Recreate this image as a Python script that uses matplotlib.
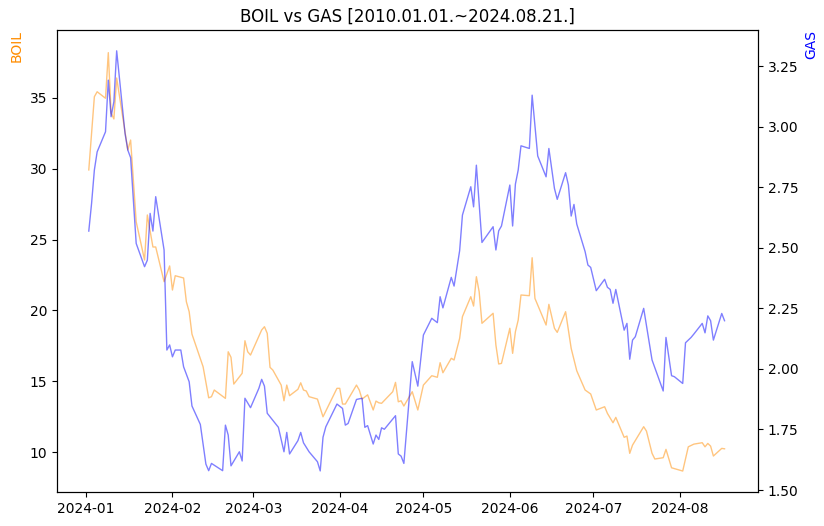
import matplotlib
matplotlib.use("Agg")
import matplotlib.pyplot as plt
import matplotlib.dates as mdates
import pandas as pd

boil_day = [1,3,4,7,8,9,10,11,15,16,18,21,22,24,25,28,30,31,32,35,36,37,38,42,44,45,46,50,51,52,53,56,57,58,59,63,64,65,66,67,70,71,72,73,
            76,77,78,79,80,83,85,90,91,92,93,97,98,99,101,103,104,105,106,110,111,112,113,114,117,119,121,124,126,127,128,131,132,134,135,
            138,139,140,141,142,146,147,148,149,152,153,154,155,156,159,160,161,165,166,168,169,172,173,174,176,179,181,183,186,187,189,190,
            193,194,195,196,200,201,203,204,207,208,210,214,216,218,221,222,223,224,225,228,229]
boil_val = [29.92,35.09,35.44,34.98,38.2,33.94,33.52,36.41,31.33,32.03,26.26,23.56,26.74,24.48,24.48,22.03,23.14,21.44,22.45,22.29,20.61,19.91,18.33,
            16.02,13.83,13.91,14.38,13.79,17.08,16.69,14.80,15.56,17.86,17.08,16.85,18.62,18.85,18.38,15.98,15.79,14.73,13.62,14.73,13.98,
            14.43,14.89,14.38,14.31,13.91,13.74,12.49,14.50,14.50,13.39,13.39,14.73,14.38,13.74,14.04,12.97,13.60,13.48,13.44,14.26,14.92,13.55,13.62,13.25,
            14.26,12.97,14.73,15.39,15.28,16.31,15.60,16.62,16.50,18.03,19.56,20.97,20.31,22.38,21.32,19.09,19.80,17.56,16.22,16.26,
            18.74,16.97,18.50,19.32,21.09,21.04,23.72,20.85,18.97,20.43,18.74,18.45,19.91,18.62,17.32,15.74,14.38,14.10,12.97,13.20,12.73,12.07,12.45,
            11.04,11.13,9.91,10.49,11.79,11.48,9.91,9.51,9.60,10.19,8.89,8.66,10.37,10.56,10.66,10.37,10.61,10.42,9.72,10.26,10.23]

gas_day = [1,2,3,4,7,8,9,10,11,14,15,16,18,21,22,23,24,25,28,29,30,31,32,34,35,37,38,41,43,44,45,49,50,51,52,55,56,57,59,62,63,64,65,69,71,72,73,
           76,77,78,80,83,84,85,86,90,92,93,94,97,99,100,101,103,104,105,106,107,111,112,113,114,117,119,121,124,126,127,128,131,132,134,135,
           138,139,140,142,146,147,148,149,152,153,154,155,156,159,160,162,165,166,168,169,172,173,174,175,176,179,180,181,183,186,187,188,189,190,
           193,194,195,196,197,200,203,207,208,210,211,214,215,217,218,221,222,223,224,225,228,229]
gas_val = [2.569,2.683,2.821,2.896,2.979,3.192,3.041,3.103,3.313,2.972,2.903,2.872,2.518,2.422,2.449,2.642,2.569,2.711,2.491,2.078,2.099,2.050,2.078,
           2.078,2.009,1.947,1.847,1.771,1.607,1.580,1.610,1.580,1.768,1.727,1.600,1.658,1.620,1.879,1.840,1.920,1.957,1.929,1.817,1.759,1.658,1.738,1.649,
           1.704,1.738,1.695,1.658,1.617,1.579,1.718,1.761,1.855,1.837,1.768,1.775,1.874,1.879,1.759,1.766,1.690,1.727,1.709,1.757,1.751,1.807,1.649,1.640,1.610,
           2.030,1.929,2.140,2.209,2.191,2.298,2.252,2.378,2.342,2.488,2.635,2.752,2.669,2.841,2.522,2.587,2.491,2.570,2.590,2.759,2.590,2.763,2.821,2.921,
           2.910,3.130,2.879,2.793,2.910,2.745,2.700,2.810,2.759,2.631,2.679,2.598,2.484,2.429,2.419,2.323,2.370,2.337,2.328,2.271,2.328,
           2.160,2.188,2.040,2.119,2.133,2.250,2.037,1.909,2.130,1.972,1.968,1.940,2.108,2.130,2.144,2.188,2.149,2.219,2.199,2.119,2.229,2.199]

start = pd.Timestamp("2024-01-01")
boil_dates = [start + pd.Timedelta(days=d) for d in boil_day]
gas_dates = [start + pd.Timedelta(days=d) for d in gas_day]

fig = plt.figure(figsize=(8.24, 5.26), dpi=100)
ax = fig.add_axes([57/824, 1-492/526, (758-57)/824, (492-30)/526])
ax.plot(boil_dates, boil_val, color="darkorange", alpha=0.5, lw=1)
ax.set_ylim(7.18, 39.8)
ax.set_ylabel("BOIL", color="darkorange", loc="top")
ax2 = ax.twinx()
ax2.plot(gas_dates, gas_val, color="blue", alpha=0.5, lw=1)
ax2.set_ylim(1.492, 3.399)
ax2.set_ylabel("GAS", color="blue", loc="top")
ax.set_xlim(start - pd.Timedelta(days=10.4), start + pd.Timedelta(days=241))
ax.xaxis.set_major_locator(mdates.MonthLocator())
ax.xaxis.set_major_formatter(mdates.DateFormatter("%Y-%m"))
ax.set_title("BOIL vs GAS [2010.01.01.~2024.08.21.]")
fig.savefig("out.png", dpi=100)
